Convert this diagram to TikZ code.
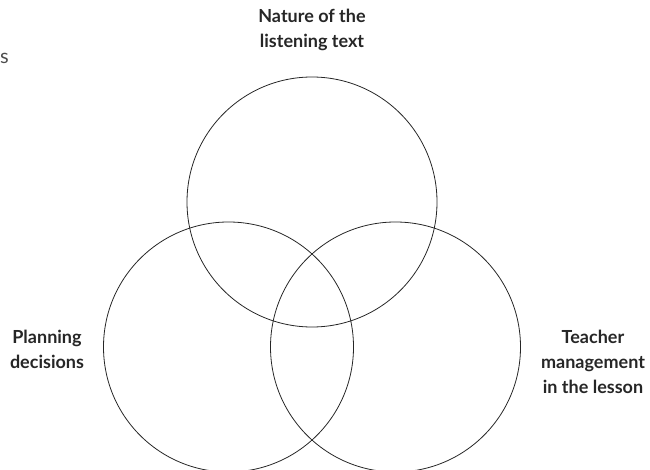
\documentclass[tikz,border=0pt]{standalone}
\usepackage{fontspec}
\setmainfont{Lato}
\usetikzlibrary{positioning}

\begin{document}
\begin{tikzpicture}[x=1pt,y=-1pt,
  lbl/.style={font=\fontsize{18}{25}\selectfont\bfseries,text=black!85,align=center,inner sep=0pt},
  ring/.style={draw=black!85,line width=0.8pt}
]
  \useasboundingbox (0,0) rectangle (650,470);
  \node[font=\fontsize{20}{24}\selectfont,text=black!70,anchor=west,inner sep=0pt] (cut) at (0,58) {s};
  \node[ring,circle,minimum size=250pt,inner sep=0pt] (C1) at (312,202) {};
  \node[ring,circle,minimum size=250pt,inner sep=0pt] (C2) at (228.5,347) {};
  \node[ring,circle,minimum size=250pt,inner sep=0pt] (C3) at (395.5,347) {};
  \node[lbl] (L1) at (312,30)  {Nature of the\\listening text};
  \node[lbl] (L2) at (47,349)  {Planning\\decisions};
  \node[lbl] (L3) at (593,362) {Teacher\\management\\in the lesson};
\end{tikzpicture}
\end{document}
